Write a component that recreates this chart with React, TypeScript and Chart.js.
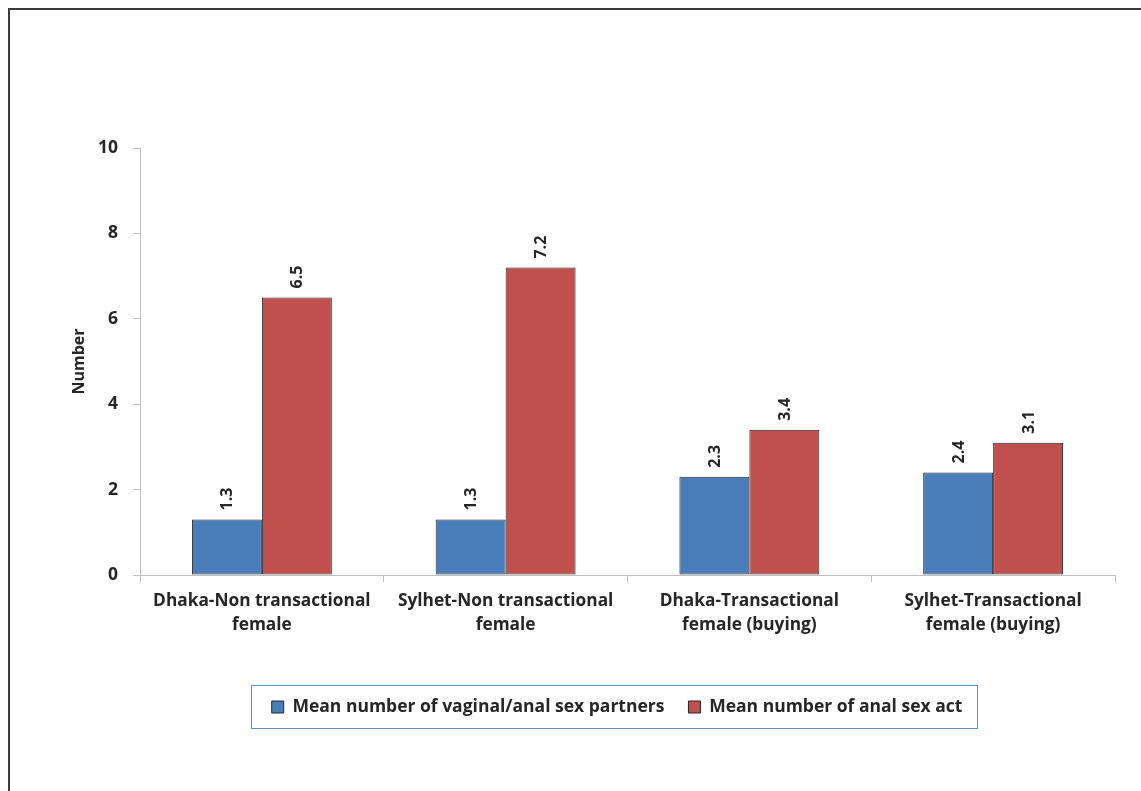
import { useEffect, useRef } from 'react';
import { Chart, registerables } from 'chart.js';
Chart.register(...registerables);

const categories = [
  ['Dhaka-Non transactional', 'female'],
  ['Sylhet-Non transactional', 'female'],
  ['Dhaka-Transactional', 'female (buying)'],
  ['Sylhet-Transactional', 'female (buying)'],
];
const seriesNames = ['Mean number of vaginal/anal sex partners', 'Mean number of anal sex act'];
const partners = [1.3, 1.3, 2.3, 2.4];
const analActs = [6.5, 7.2, 3.4, 3.1];
const yTicks = [0, 2, 4, 6, 8, 10];
const colors = ['#4a7ebb', '#c0504d'];

const FONT = 'Open Sans';
const TEXT = '#262626';
const AXIS = '#bfbfbf';

const dataLabelPlugin = {
  id: 'rotatedLabels',
  afterDatasetsDraw(chart: any) {
    const ctx = chart.ctx;
    ctx.save();
    ctx.font = `bold 16px "${FONT}"`;
    ctx.fillStyle = TEXT;
    ctx.textAlign = 'left';
    ctx.textBaseline = 'middle';
    chart.data.datasets.forEach((ds: any, di: number) => {
      const meta = chart.getDatasetMeta(di);
      meta.data.forEach((el: any, i: number) => {
        ctx.save();
        ctx.translate(el.x + 1, el.y - 9);
        ctx.rotate(-Math.PI / 2);
        ctx.fillText(Number(ds.data[i]).toFixed(1), 0, 0);
        ctx.restore();
      });
    });
    ctx.restore();
  },
};

const legendBorderPlugin = {
  id: 'legendBorder',
  afterDraw(chart: any) {
    const lg = chart.legend;
    if (!lg || !lg.legendHitBoxes || !lg.legendHitBoxes.length) return;
    const hb = lg.legendHitBoxes;
    const left = Math.min(...hb.map((h: any) => h.left)) - 21;
    const right = Math.max(...hb.map((h: any) => h.left + h.width)) + 14;
    const cy = hb[0].top + hb[0].height / 2;
    const ctx = chart.ctx;
    ctx.save();
    ctx.strokeStyle = '#5b8fd0';
    ctx.lineWidth = 1;
    ctx.strokeRect(Math.round(left) + 0.5, Math.round(cy - 22) + 0.5, Math.round(right - left), 43);
    ctx.restore();
  },
};

export default function App() {
  const ref = useRef<HTMLCanvasElement>(null);
  useEffect(() => {
    if (!ref.current) return;
    const font = (size: number) => ({ family: FONT, size, weight: 'bold' as const });
    const chart = new Chart(ref.current, {
      type: 'bar',
      data: {
        labels: categories,
        datasets: [
          {
            label: seriesNames[0],
            data: partners,
            backgroundColor: colors[0],
            borderColor: '#262626',
            borderWidth: 1,
            borderSkipped: false,
            categoryPercentage: 0.574,
            barPercentage: 1,
          },
          {
            label: seriesNames[1],
            data: analActs,
            backgroundColor: colors[1],
            borderColor: '#262626',
            borderWidth: 1,
            borderSkipped: false,
            categoryPercentage: 0.574,
            barPercentage: 1,
          },
        ],
      },
      options: {
        animation: false,
        responsive: false,
        maintainAspectRatio: false,
        layout: { padding: { left: 0, right: 0, top: 148, bottom: 65.25 } },
        plugins: {
          legend: {
            position: 'bottom',
            labels: {
              boxWidth: 12,
              boxHeight: 12,
              padding: 24,
              font: font(17.5),
              color: TEXT,
            },
          },
          tooltip: { enabled: false },
        },
        scales: {
          x: {
            grid: { display: true, drawOnChartArea: false, drawTicks: true, tickLength: 7, color: AXIS, offset: true },
            border: { color: AXIS, width: 1 },
            ticks: { font: { ...font(17.3), lineHeight: 1.4 }, color: TEXT, padding: 7, maxRotation: 0, autoSkip: false },
            afterFit: (s: any) => { s.height = 99.25; },
          },
          y: {
            min: 0,
            max: 10,
            afterBuildTicks: (s: any) => { s.ticks = yTicks.map((v) => ({ value: v })); },
            ticks: { font: font(17.5), color: TEXT, padding: 15 },
            grid: { drawOnChartArea: false, tickLength: 7, color: AXIS },
            border: { color: AXIS, width: 1 },
            title: { display: true, text: 'Number', font: font(16), color: TEXT, padding: { top: 70, bottom: 0 } },
            afterFit: (s: any) => { s.width = 140; },
          },
          spacer: {
            type: 'linear',
            position: 'right',
            display: true,
            ticks: { display: false },
            grid: { display: false },
            border: { display: false },
            afterFit: (s: any) => { s.width = 119; },
          },
        },
      },
      plugins: [dataLabelPlugin, legendBorderPlugin],
    });
    return () => chart.destroy();
  }, []);
  return (
    <div style={{ position: 'fixed', left: 0, top: 0, width: 1141, height: 791, overflow: 'hidden', background: '#fff' }}>
      <div style={{ position: 'absolute', left: 8, top: 8, width: 1200, height: 900, border: '2px solid #3a3a3a' }} />
      <canvas ref={ref} width={1234} height={791} style={{ position: 'absolute', left: 0, top: 0, width: 1234, height: 791 }} />
    </div>
  );
}
